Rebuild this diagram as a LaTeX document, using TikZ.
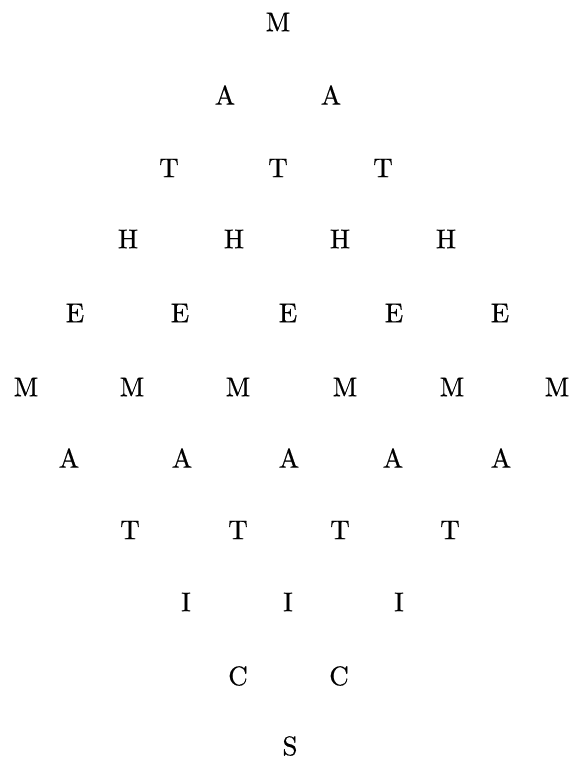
\documentclass[tikz,border=0pt]{standalone}
\usepackage{fontspec}
\newfontfamily\heavyfont{lmroman10-regular.otf}[FakeBold=0.6]
\begin{document}
\begin{tikzpicture}[x=1pt,y=-1pt,
  letter/.style={inner sep=0pt, font=\heavyfont\fontsize{27}{31}\selectfont}]
\useasboundingbox (0,0) rectangle (570,759);
% row 1
\node[letter] (r1a) at (278,22) {M};
% row 2
\node[letter] (r2a) at (225,95) {A};
\node[letter] (r2b) at (331,95) {A};
% row 3
\node[letter] (r3a) at (169,168) {T};
\node[letter] (r3b) at (278,168) {T};
\node[letter] (r3c) at (383,168) {T};
% row 4
\node[letter] (r4a) at (128,239) {H};
\node[letter] (r4b) at (234,239) {H};
\node[letter] (r4c) at (340,239) {H};
\node[letter] (r4d) at (446,239) {H};
% row 5
\node[letter] (r5a) at (75,313) {E};
\node[letter] (r5b) at (180,313) {E};
\node[letter] (r5c) at (288,313) {E};
\node[letter] (r5d) at (394,313) {E};
\node[letter] (r5e) at (500,313) {E};
% row 6
\node[letter] (r6a) at (26,387) {M};
\node[letter] (r6b) at (132,387) {M};
\node[letter] (r6c) at (238,387) {M};
\node[letter] (r6d) at (345,387) {M};
\node[letter] (r6e) at (452,387) {M};
\node[letter] (r6f) at (557,387) {M};
% row 7
\node[letter] (r7a) at (69,458) {A};
\node[letter] (r7b) at (182,458) {A};
\node[letter] (r7c) at (289,458) {A};
\node[letter] (r7d) at (393,458) {A};
\node[letter] (r7e) at (501,458) {A};
% row 8
\node[letter] (r8a) at (130,530) {T};
\node[letter] (r8b) at (238,530) {T};
\node[letter] (r8c) at (340,530) {T};
\node[letter] (r8d) at (450,530) {T};
% row 9
\node[letter] (r9a) at (186,602) {I};
\node[letter] (r9b) at (288,602) {I};
\node[letter] (r9c) at (399,602) {I};
% row 10
\node[letter] (r10a) at (238,676) {C};
\node[letter] (r10b) at (339,676) {C};
% row 11
\node[letter] (r11a) at (290,746) {S};
\end{tikzpicture}
\end{document}
